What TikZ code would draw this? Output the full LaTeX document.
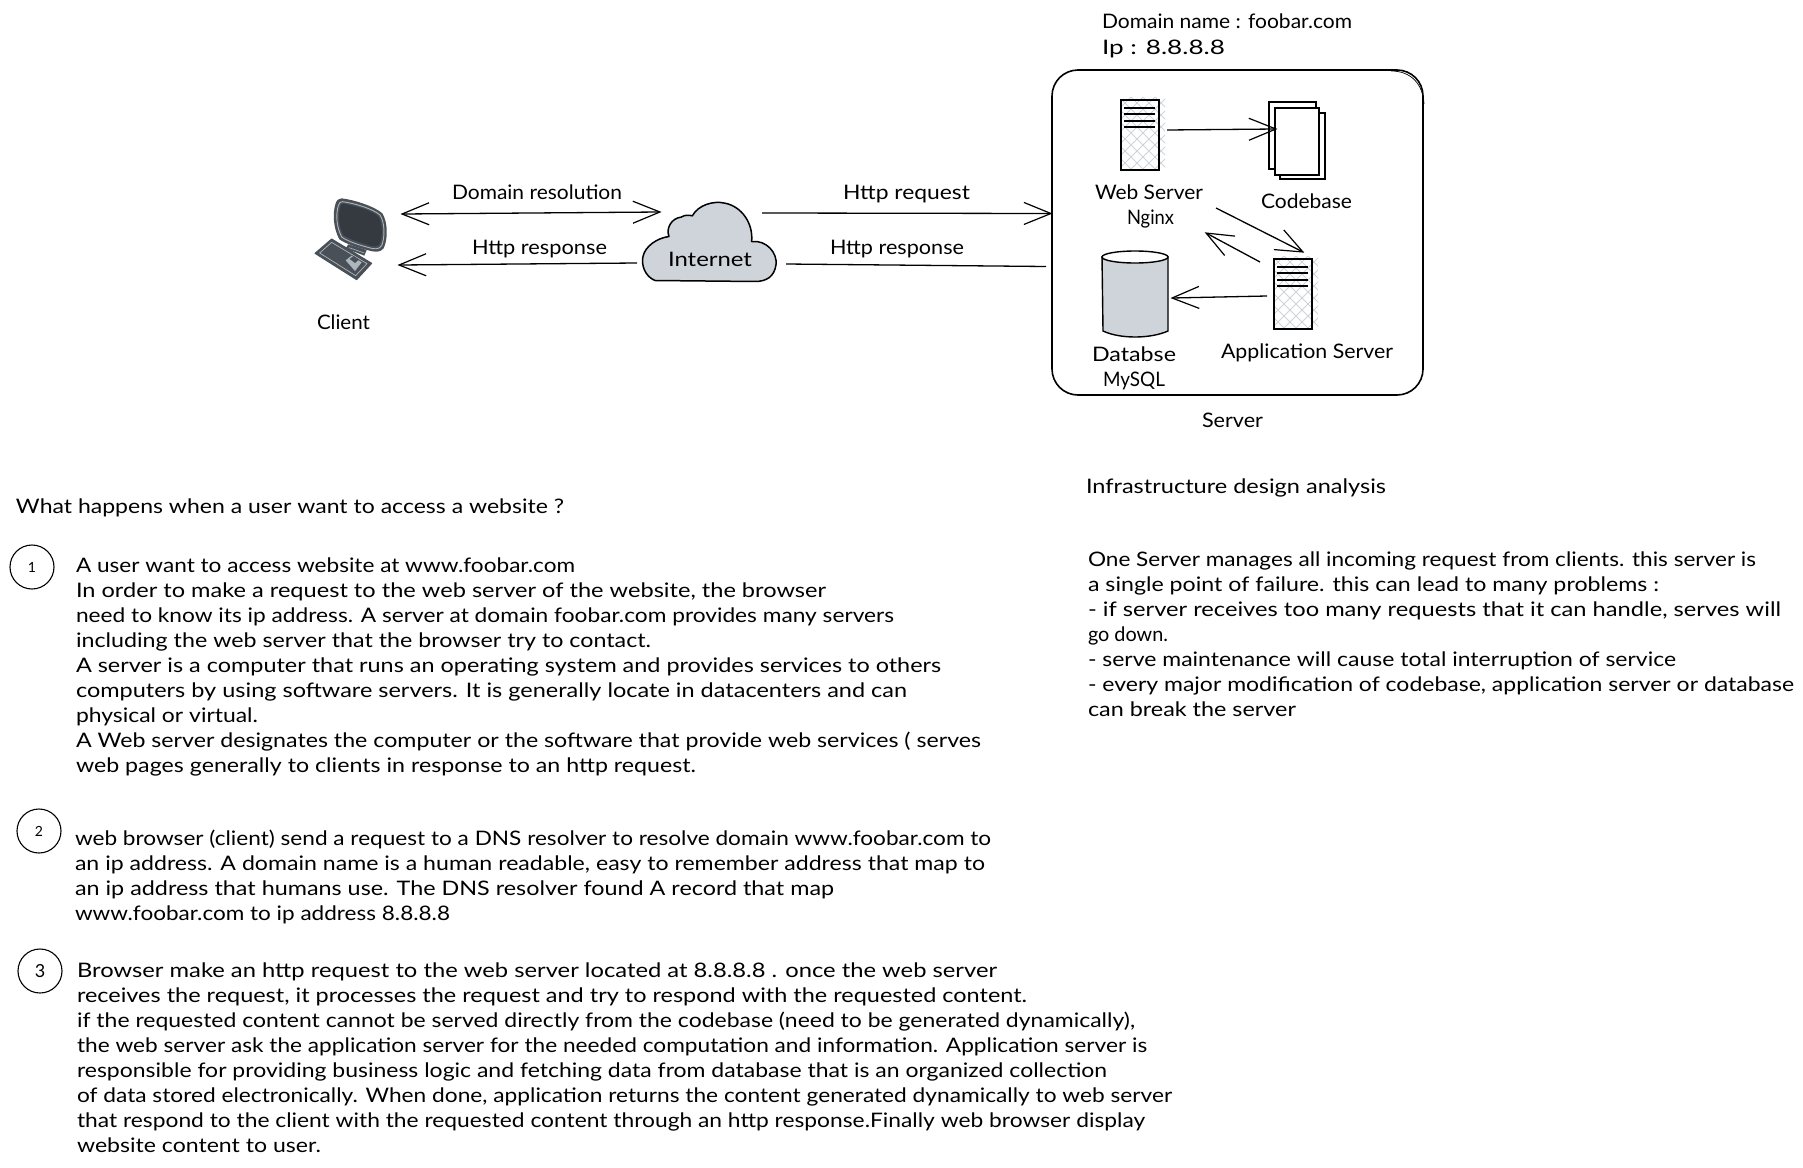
\documentclass[tikz,border=0pt]{standalone}
\usepackage{fontspec}
\setmainfont{Lato}
\usetikzlibrary{arrows.meta,calc}
\definecolor{sketchgrey}{HTML}{CED4DA}
\definecolor{iconedge}{HTML}{495057}
\definecolor{icondark}{HTML}{343A40}
\definecolor{iconlight}{HTML}{ADB5BD}
\tikzset{
  txt/.style={anchor=base west,inner sep=0pt,outer sep=0pt,font=\fontsize{20}{24}\selectfont},
  srvbox/.style={draw=black,line width=2pt,inner sep=0pt,outer sep=0pt,minimum width=38pt,minimum height=70pt},
  sheet/.style={draw=black,fill=white,line width=2.2pt},
  link/.style={draw=black,line width=1.3pt},
  arr/.style={link,shorten >=-1.5pt,-{Straight Barb[length=27pt,width=22pt,line width=1.2pt]}},
  biarr/.style={link,shorten >=-1.5pt,shorten <=-1.5pt,{Straight Barb[length=27pt,width=22pt,line width=1.2pt]}-{Straight Barb[length=27pt,width=22pt,line width=1.2pt]}},
  numcircle/.style={circle,draw=black,line width=1.1pt,inner sep=0pt,outer sep=0pt,minimum size=44pt}
}
\newcommand\tl[5]{\pgfmathsetmacro\tlw{#4-(#2)}\node[txt] (#1) at (#2,#3+7) {\resizebox{\tlw pt}{\height}{#5}};}
\newcommand\srv[3]{%
  \begin{scope}[shift={(#2,#3)}]
    \begin{scope}
      \clip (-19,-38) rectangle (25,35);
      \foreach \d in {-120,-108,...,60}{
        \draw[sketchgrey,line width=0.9pt] (-19,\d) -- ++(60,60);
        \draw[sketchgrey,line width=0.9pt] (25,\d) -- ++(-60,60);
      }
    \end{scope}
    \foreach \ly in {-27,-21,-14,-8}{
      \draw[black,line width=2pt] (-16,\ly) -- (15,\ly);
    }
  \end{scope}
  \node[srvbox] (#1) at (#2,#3) {};
}
\begin{document}
\begin{tikzpicture}[x=1pt,y=-1pt]
\fill[white] (0,0) rectangle (1803,1167);
\useasboundingbox (0,0) rectangle (1803,1167);

% placement holders
\node[inner sep=0pt,outer sep=0pt,minimum width=72pt,minimum height=81pt] (client) at (352,238) {};
\node[inner sep=0pt,outer sep=0pt,minimum width=134pt,minimum height=79pt] (cloud) at (710,241) {};
\node[inner sep=0pt,outer sep=0pt,minimum width=56pt,minimum height=77pt] (code) at (1297,140.5) {};
\node[inner sep=0pt,outer sep=0pt,minimum width=66pt,minimum height=84pt] (db) at (1135,293) {};

% client icon
\begin{scope}[shift={(305,185)},x=0.3333pt,y=-0.3333pt]
  % stand
  \fill[iconedge] (130,178) -- (185,195) -- (178,212) -- (122,190) -- cycle;
  \draw[iconlight,line width=0.6pt] (132,188) -- (178,204);
  % keyboard
  \fill[iconedge,draw=iconedge,line width=1pt,line join=round] (80,162) -- (200,235) -- (155,284) -- (30,205) -- cycle;
  \draw[iconlight,line width=0.7pt,line join=round] (80,172) -- (186,236) -- (152,272) -- (44,204) -- cycle;
  \fill[iconlight] (122,226) -- (140,212) -- (170,232) -- (150,258) -- cycle;
  \fill[iconedge] (134,222) -- (146,213) -- (162,224) -- (150,234) -- cycle;
  % monitor
  \fill[iconedge] (110,40) .. controls (150,45) and (210,65) .. (232,85)
     .. controls (248,110) and (250,160) .. (236,190)
     .. controls (225,205) and (205,200) .. (190,196)
     .. controls (160,188) and (125,178) .. (103,163)
     .. controls (85,130) and (82,85) .. (92,55)
     .. controls (95,45) and (102,40) .. (110,40) -- cycle;
  \draw[iconlight,line width=0.9pt] (112,50) .. controls (150,55) and (205,72) .. (225,90)
     .. controls (240,112) and (240,158) .. (230,182)
     .. controls (222,195) and (205,192) .. (192,188)
     .. controls (162,180) and (130,170) .. (110,156)
     .. controls (94,125) and (92,88) .. (100,62)
     .. controls (102,54) and (106,50) .. (112,50) -- cycle;
  \fill[icondark] (114,56) .. controls (150,62) and (200,76) .. (220,94)
     .. controls (233,115) and (233,155) .. (225,176)
     .. controls (218,187) and (205,185) .. (192,181)
     .. controls (165,173) and (135,163) .. (115,150)
     .. controls (100,122) and (99,90) .. (106,66)
     .. controls (108,59) and (110,56) .. (114,56) -- cycle;
\end{scope}

% cloud
\begin{scope}[shift={(635,196.5)},x=0.3333pt,y=-0.3333pt]
  \draw[black,fill=sketchgrey,line width=1.5pt,line join=round]
    (60,252) .. controls (30,240) and (18,205) .. (24,180)
    .. controls (30,150) and (65,125) .. (102,120)
    .. controls (92,95) and (110,65) .. (138,62)
    .. controls (150,55) and (160,55) .. (172,58)
    .. controls (190,25) and (235,12) .. (270,20)
    .. controls (320,30) and (355,80) .. (350,135)
    .. controls (395,130) and (428,170) .. (423,205)
    .. controls (418,240) and (395,255) .. (360,255)
    -- (60,252) -- cycle;
\end{scope}

% server frame
\node[draw=black,line width=1.6pt,rounded corners=26pt,inner sep=0pt,outer sep=0pt,minimum width=371pt,minimum height=325pt] (serverbox) at (1237.5,232.5) {};
\draw[black,line width=0.7pt] ($(serverbox.north east)+(-32,1)$) .. controls ($(serverbox.north east)+(-12,1)$) and ($(serverbox.north east)+(0,14)$) .. ($(serverbox.north east)+(1,34)$);

% servers
\srv{web}{1140}{135}
\srv{app}{1293}{294}

% codebase
\draw[sheet] (1269,102) rectangle (1316,169);
\draw[sheet] (1280,113) rectangle (1325,179);
\draw[sheet] (1275,108) rectangle (1319,175);

% database
\draw[black,fill=sketchgrey,line width=1.4pt] (1102,257) -- (1103,331) .. controls (1120,339) and (1150,339) .. (1168,331) -- (1168,257) -- cycle;
\draw[black,fill=white,line width=1.4pt] (1135,257) ellipse (33 and 6);

% number circles
\node[numcircle,font=\fontsize{14}{16}\selectfont] (c1) at (32,567) {1};
\node[numcircle,font=\fontsize{14}{16}\selectfont] (c2) at (39,831) {2};
\node[numcircle,font=\fontsize{18}{20}\selectfont] (c3) at (40,971) {3};

% connectors
\draw[biarr] ([shift={(14,-24)}]client.east) -- ([shift={(-117,-29)}]cloud.east);
\draw[arr] ([shift={(-6,22)}]cloud.west) -- ([shift={(11,27)}]client.east);
\draw[arr] ([shift={(-15,-28)}]cloud.east) -- ([shift={(-1,-19)}]serverbox.west);
\draw[link] ([shift={(-6,34)}]serverbox.west) -- ([shift={(9,23)}]cloud.east);
\draw[arr] ([shift={(8,-5)}]web.east) -- ([shift={(7,-11.5)}]code.west);
\draw[arr] ([shift={(76,38)}]web.south) -- ([shift={(10,-7)}]app.north);
\draw[arr] ([shift={(-33,3)}]app.north) -- ([shift={(66,63)}]web.south);
\draw[arr] ([shift={(-7,2)}]app.west) -- ([shift={(4,5)}]db.east);

% diagram labels
\tl{tdomres}{452}{192}{622}{Domain resolution}
\tl{trespl}{472}{247}{607}{Http response}
\tl{tclient}{317}{322}{370}{Client}
\tl{tinternet}{668}{259}{752}{Internet}
\tl{treq}{843}{192}{970}{Http request}
\tl{tresr}{830}{247}{964}{Http response}
\tl{tdomain}{1102}{21}{1352}{Domain name : foobar.com}
\tl{tip}{1102}{47}{1225}{Ip : 8.8.8.8}
\tl{tweb}{1095}{192}{1203}{Web Server}
\tl{tnginx}{1127}{217}{1174}{Nginx}
\tl{tcode}{1261}{201}{1352}{Codebase}
\tl{tdatabse}{1092}{354}{1176}{Databse}
\tl{tmysql}{1103}{379}{1165}{MySQL}
\tl{tappsrv}{1221}{351}{1393}{Application Server}
\tl{tserver}{1202}{420}{1263}{Server}

% left text
\tl{twhat}{16}{506}{564}{What happens when a user want to access a website ?}
\tl{aa}{76}{565}{575}{A user want to access website at www.foobar.com}
\tl{ab}{76}{590}{826}{In order to make a request to the web server of the website, the browser}
\tl{ac}{76}{615}{894}{need to know its ip address. A server at domain foobar.com provides many servers}
\tl{ad}{76}{640}{651}{including the web server that the browser try to contact.}
\tl{ae}{76}{665}{941}{A server is a computer that runs an operating system and provides services to others}
\tl{af}{76}{690}{907}{computers by using software servers. It is generally locate in datacenters and can}
\tl{ag}{76}{715}{258}{physical or virtual.}
\tl{ah}{76}{740}{981}{A Web server designates the computer or the software that provide web services ( serves}
\tl{ai}{76}{765}{696}{web pages generally to clients in response to an http request.}

\tl{ba}{75}{838}{991}{web browser (client) send a request to a DNS resolver to resolve domain www.foobar.com to}
\tl{bb}{75}{863}{985}{an ip address. A domain name is a human readable, easy to remember address that map to}
\tl{bc}{75}{888}{834}{an ip address that humans use. The DNS resolver found A record that map}
\tl{bd}{75}{913}{450}{www.foobar.com to ip address 8.8.8.8}

\tl{ca}{77}{970}{997}{Browser make an http request to the web server located at 8.8.8.8 . once the web server}
\tl{cb}{77}{995}{1027}{receives the request, it processes the request and try to respond with the requested content.}
\tl{cc}{77}{1020}{1135}{if the requested content cannot be served directly from the codebase (need to be generated dynamically),}
\tl{cd}{77}{1045}{1147}{the web server ask the application server for the needed computation and information. Application server is}
\tl{ce}{77}{1070}{1107}{responsible for providing business logic and fetching data from database that is an organized collection}
\tl{cf}{77}{1095}{1172}{of data stored electronically. When done, application returns the content generated dynamically to web server}
\tl{cg}{77}{1120}{1145}{that respond to the client with the requested content through an http response.Finally web browser display}
\tl{ch}{77}{1145}{321}{website content to user.}

% right text
\tl{tinfra}{1086}{486}{1386}{Infrastructure design analysis}
\tl{da}{1088}{559}{1756}{One Server manages all incoming request from clients. this server is}
\tl{db1}{1088}{584}{1659}{a single point of failure. this can lead to many problems :}
\tl{dc}{1088}{609}{1781}{- if server receives too many requests that it can handle, serves will}
\tl{dd}{1088}{634}{1168}{go down.}
\tl{de}{1088}{659}{1676}{- serve maintenance will cause total interruption of service}
\tl{df}{1088}{684}{1794}{- every major modification of codebase, application server or database}
\tl{dg}{1088}{709}{1296}{can break the server}
\end{tikzpicture}
\end{document}
